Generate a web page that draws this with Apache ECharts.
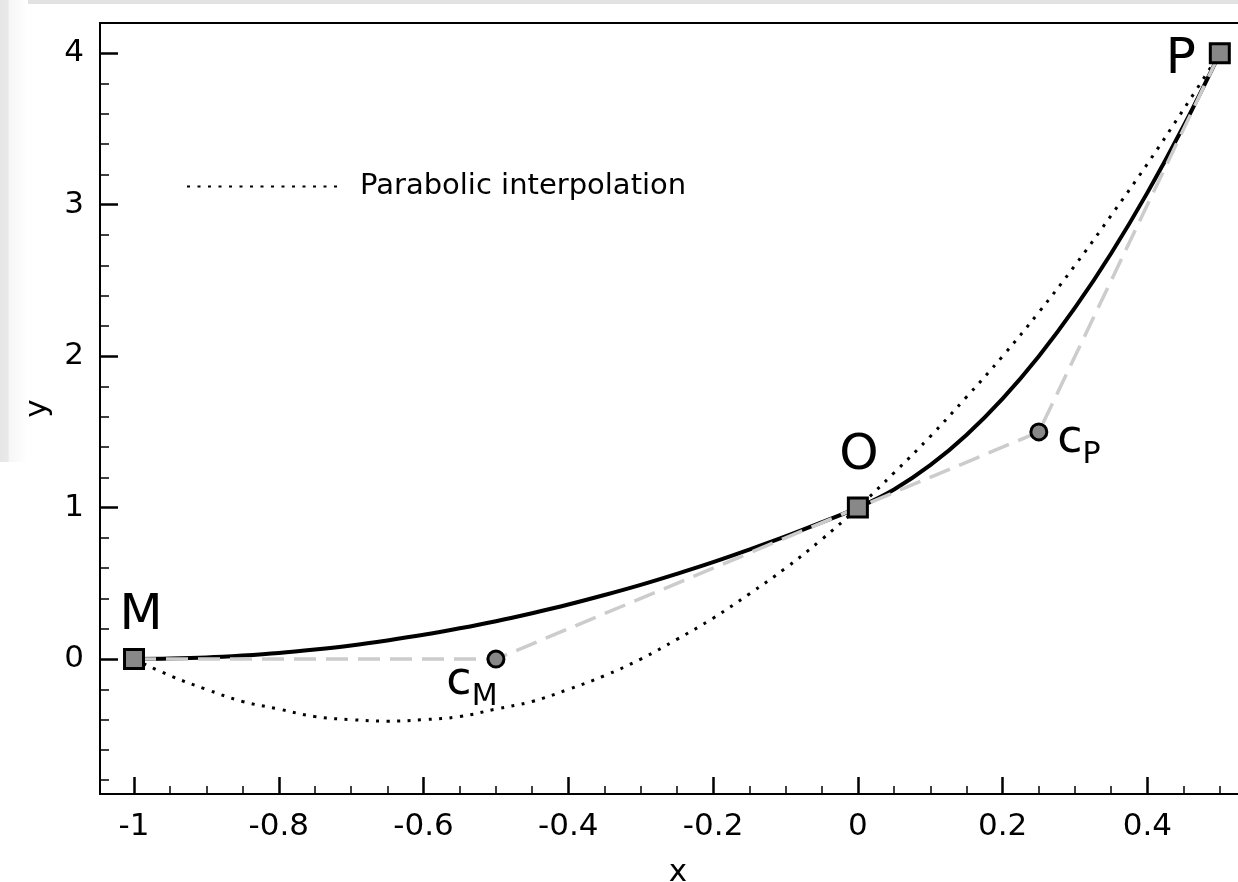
<!DOCTYPE html>
<html>
<head>
<meta charset="utf-8">
<script src="https://cdn.jsdelivr.net/npm/echarts@6/dist/echarts.min.js"></script>
<style>
  html, body { margin: 0; padding: 0; background: #fff; }
  #chart { width: 1238px; height: 882px; }
</style>
</head>
<body>
<div id="chart"></div>
<script>
// nodes M, O, P
var nodeNames = ['M', 'O', 'P'];
var nodeX = [-1, 0, 0.5];
var nodeY = [0, 1, 4];

// control points c_M, c_P
var ctrlNames = ['M', 'P'];
var ctrlX = [-0.5, 0.25];
var ctrlY = [0, 1.5];

// control polygon M - cM - O - cP - P
var polyX = [-1, -0.5, 0, 0.25, 0.5];
var polyY = [0, 0, 1, 1.5, 4];

// solid curve
var curveX = [-1, -0.95, -0.9, -0.85, -0.8, -0.75, -0.7, -0.65, -0.6, -0.55, -0.5,
  -0.45, -0.4, -0.35, -0.3, -0.25, -0.2, -0.15, -0.1, -0.05, 0,
  0.05, 0.1, 0.15, 0.2, 0.25, 0.3, 0.35, 0.4, 0.45, 0.5];
var curveY = [0, 0.003, 0.01, 0.023, 0.04, 0.063, 0.09, 0.123, 0.16, 0.203, 0.25,
  0.303, 0.36, 0.423, 0.49, 0.563, 0.64, 0.723, 0.81, 0.903, 1,
  1.12, 1.28, 1.48, 1.72, 2.0, 2.32, 2.68, 3.08, 3.52, 4];

// parabolic interpolation (dotted)
var paraX = [-1, -0.95, -0.9, -0.85, -0.8, -0.75, -0.7, -0.65, -0.6, -0.55, -0.5,
  -0.45, -0.4, -0.35, -0.3, -0.25, -0.2, -0.15, -0.1, -0.05, 0,
  0.05, 0.1, 0.15, 0.2, 0.25, 0.3, 0.35, 0.4, 0.45, 0.5];
var paraY = [0, -0.11, -0.2, -0.28, -0.33, -0.38, -0.4, -0.41, -0.4, -0.38, -0.33,
  -0.28, -0.2, -0.11, 0, 0.13, 0.27, 0.43, 0.6, 0.79, 1,
  1.23, 1.47, 1.73, 2.0, 2.29, 2.6, 2.93, 3.27, 3.63, 4];

var xMajor = [-1, -0.8, -0.6, -0.4, -0.2, 0, 0.2, 0.4];
var xMinor = [-0.95, -0.9, -0.85, -0.75, -0.7, -0.65, -0.55, -0.5, -0.45,
  -0.35, -0.3, -0.25, -0.15, -0.1, -0.05, 0.05, 0.1, 0.15, 0.25, 0.3, 0.35, 0.45, 0.5];
var yMajor = [0, 1, 2, 3, 4];
var yMinor = [-0.8, -0.6, -0.4, -0.2, 0.2, 0.4, 0.6, 0.8, 1.2, 1.4, 1.6, 1.8,
  2.2, 2.4, 2.6, 2.8, 3.2, 3.4, 3.6, 3.8];

function zip(xs, ys) {
  return xs.map(function (x, i) { return [x, ys[i]]; });
}

var FONT = 'DejaVu Sans';
var chart = echarts.init(document.getElementById('chart'));

// label placement for each node / control point (style only)
var nodeLabelOffset = { M: [7, -43], O: [1, -52], P: [-39, 7] };
var ctrlLabelOffset = { M: [-24, 23], P: [40, 8] };

var nodeData = nodeNames.map(function (n, i) {
  return { name: n, value: [nodeX[i], nodeY[i]], label: { offset: nodeLabelOffset[n] } };
});
var ctrlData = ctrlNames.map(function (n, i) {
  return { name: n, value: [ctrlX[i], ctrlY[i]], label: { offset: ctrlLabelOffset[n] } };
});

var axisLineStyle = { color: '#000', width: 2 };

var option = {
  backgroundColor: '#fff',
  animation: false,
  graphic: [
    { type: 'rect', left: 0, top: 0, shape: { width: 1238, height: 4 }, style: { fill: '#e2e2e2' }, silent: true },
    {
      type: 'rect', left: 0, top: 0, shape: { width: 28, height: 462 }, silent: true,
      style: { fill: new echarts.graphic.LinearGradient(0, 0, 1, 0, [
        { offset: 0, color: '#e6e6e6' }, { offset: 0.3, color: '#e9e9e9' },
        { offset: 0.31, color: '#f6f6f6' }, { offset: 1, color: '#ffffff' }]) }
    }
  ],
  grid: {
    left: 100, top: 23, width: 1156, height: 771,
    outerBoundsMode: 'none', containLabel: false,
    show: true, borderColor: '#000', borderWidth: 2, backgroundColor: 'transparent'
  },
  legend: {
    data: ['Parabolic interpolation'],
    left: 186, top: 172, padding: 0,
    itemWidth: 150, itemHeight: 28,
    itemStyle: { opacity: 0, borderWidth: 0 },
    textStyle: { fontFamily: FONT, fontSize: 29, color: '#000', padding: [0, 0, 0, 18] }
  },
  xAxis: [
    {
      type: 'value', min: -1.047, max: 0.55,
      name: 'x', nameLocation: 'middle', nameGap: 63,
      nameTextStyle: { fontFamily: FONT, fontSize: 31, color: '#000' },
      axisLine: { show: true, onZero: false, lineStyle: axisLineStyle },
      axisTick: { show: true, inside: true, length: 17, customValues: xMajor, lineStyle: { color: '#000', width: 2.5 } },
      axisLabel: { customValues: xMajor, fontFamily: FONT, fontSize: 31, color: '#000', margin: 17 },
      splitLine: { show: false }
    },
    {
      type: 'value', min: -1.047, max: 0.55, position: 'bottom',
      axisLine: { show: false, onZero: false },
      axisTick: { show: true, inside: true, length: 8, customValues: xMinor, lineStyle: { color: '#000', width: 1.5 } },
      axisLabel: { show: false },
      splitLine: { show: false }
    }
  ],
  yAxis: [
    {
      type: 'value', min: -0.891, max: 4.2,
      name: 'y', nameLocation: 'middle', nameGap: 44, nameRotate: 90,
      nameTextStyle: { fontFamily: FONT, fontSize: 31, color: '#000' },
      axisLine: { show: true, onZero: false, lineStyle: axisLineStyle },
      axisTick: { show: true, inside: true, length: 18, customValues: yMajor, lineStyle: { color: '#000', width: 2.5 } },
      axisLabel: { customValues: yMajor, fontFamily: FONT, fontSize: 31, color: '#000', margin: 16 },
      splitLine: { show: false }
    },
    {
      type: 'value', min: -0.891, max: 4.2, position: 'left',
      axisLine: { show: false, onZero: false },
      axisTick: { show: true, inside: true, length: 9, customValues: yMinor, lineStyle: { color: '#000', width: 1.5 } },
      axisLabel: { show: false },
      splitLine: { show: false }
    }
  ],
  series: [
    {
      name: 'Curve', type: 'line', data: zip(curveX, curveY),
      symbol: 'none', smooth: 0.4, z: 2,
      lineStyle: { color: '#000', width: 4 }
    },
    {
      name: 'Parabolic interpolation', type: 'line', data: zip(paraX, paraY),
      symbol: 'none', smooth: 0.4, z: 3,
      lineStyle: { color: '#000', width: 3, type: [3, 7.5] }
    },
    {
      name: 'Control polygon', type: 'line', data: zip(polyX, polyY),
      symbol: 'none', z: 4,
      lineStyle: { color: '#cccccc', width: 3.5, type: [22, 10] }
    },
    {
      name: 'Nodes', type: 'scatter', data: nodeData, z: 5,
      symbol: 'rect', symbolSize: 19,
      itemStyle: { color: '#888888', borderColor: '#000', borderWidth: 3, opacity: 1 },
      label: {
        show: true, position: 'inside', formatter: '{b}',
        fontFamily: FONT, fontSize: 50, color: '#000'
      }
    },
    {
      name: 'Control points', type: 'scatter', data: ctrlData, z: 5,
      symbol: 'circle', symbolSize: 16,
      itemStyle: { color: '#888888', borderColor: '#000', borderWidth: 3, opacity: 1 },
      label: {
        show: true, position: 'inside',
        formatter: function (p) { return '{c|c}{s|' + p.name + '}'; },
        rich: {
          c: { fontFamily: FONT, fontSize: 46, color: '#000', lineHeight: 46 },
          s: { fontFamily: FONT, fontSize: 30, color: '#000', padding: [30, 0, 0, 0] }
        }
      }
    }
  ]
};

chart.setOption(option);
</script>
</body>
</html>
